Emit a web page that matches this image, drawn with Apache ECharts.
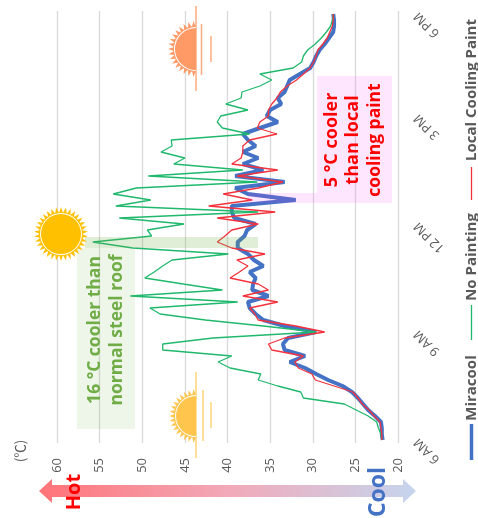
<!DOCTYPE html>
<html>
<head>
<meta charset="utf-8">
<style>
  html, body { margin: 0; padding: 0; background: #fff; }
  #chart { width: 478px; height: 518px; }
</style>
</head>
<body>
<div id="chart"></div>
<script src="https://cdn.jsdelivr.net/npm/echarts@6/dist/echarts.min.js"></script>
<script>
// 10 minute samples, 6 AM to the end of the day's log
const tempTicks = [20, 25, 30, 35, 40, 45, 50, 55, 60];
const timeLabels = { 0: '6 AM', 18: '9 AM', 36: '12 PM', 54: '3 PM', 71: '6 PM' };
const seriesNames = ['Miracool', 'No Painting', 'Local Cooling Paint'];

const miracool = [
  21.8, 21.9, 21.9, 22.0, 22.7, 23.5, 24.1, 24.7, 25.4, 26.5,
  28.2, 29.6, 30.9, 32.7, 30.9, 33.3, 33.5, 32.9, 29.6, 33.3,
  35.8, 36.7, 37.4, 37.6, 35.2, 37.1, 37.0, 36.7, 37.4, 35.8,
  36.9, 37.6, 38.8, 38.8, 38.0, 37.7, 36.7, 39.2, 39.5, 39.5,
  32.0, 37.6, 39.1, 33.3, 39.1, 35.8, 38.2, 36.4, 38.2, 36.7,
  37.6, 38.2, 36.2, 34.1, 35.4, 35.0, 33.7, 34.1, 33.3, 33.0,
  32.7, 31.5, 30.3, 29.9, 29.6, 29.2, 28.6, 28.1, 27.6, 27.5,
  27.5, 27.6
];
const noPainting = [
  21.9, 22.0, 22.3, 22.5, 23.5, 24.9, 26.3, 31.1, 31.4, 34.1,
  36.4, 36.1, 39.7, 41.1, 39.5, 47.6, 47.6, 41.7, 29.6, 35.8,
  42.6, 47.9, 49.1, 38.8, 51.4, 40.6, 45.2, 49.7, 48.6, 47.6,
  46.5, 39.9, 51.1, 55.8, 48.9, 49.4, 45.1, 52.7, 36.4, 53.1,
  49.0, 53.4, 50.7, 36.5, 49.3, 38.2, 46.3, 45.0, 47.8, 46.5,
  46.6, 37.4, 40.6, 41.2, 40.8, 37.6, 40.2, 38.4, 38.3, 36.2,
  34.8, 36.2, 32.3, 31.3, 31.1, 30.6, 29.7, 29.0, 28.4, 27.9,
  27.7, 27.6
];
const localPaint = [
  21.9, 21.9, 22.0, 22.1, 22.8, 23.4, 24.2, 24.7, 25.3, 27.5,
  29.7, 30.1, 31.7, 32.1, 31.1, 34.8, 35.2, 33.3, 28.6, 32.0,
  36.4, 36.8, 37.4, 34.1, 38.2, 35.2, 36.4, 39.7, 38.6, 37.6,
  38.9, 35.6, 39.5, 41.2, 40.3, 39.5, 36.4, 41.2, 34.4, 42.2,
  37.1, 40.5, 36.4, 33.5, 38.9, 34.1, 39.5, 38.4, 38.2, 38.2,
  37.4, 34.2, 36.5, 36.2, 35.2, 35.2, 34.8, 34.2, 33.8, 33.0,
  31.9, 31.1, 30.3, 29.9, 29.6, 29.4, 28.8, 28.3, 28.0, 27.7,
  27.6, 27.6
];
const categories = miracool.map((v, i) => timeLabels[i] || '');

const grey = '#595959';
const quarter = Math.PI / 2; // the whole picture is turned 90 degrees counter-clockwise
const font = '"Open Sans", sans-serif';

function turnedText(text, x, y, size, color, weight, family) {
  return {
    type: 'text', x: x, y: y, rotation: quarter, z: 20,
    style: { text: text, align: 'center', verticalAlign: 'middle', fontFamily: family || font,
             fontSize: size, fontWeight: weight || 'normal', fill: color }
  };
}

function box(x, y, w, h, fill) {
  return { type: 'rect', z: 10, shape: { x: x, y: y, width: w, height: h }, style: { fill: fill } };
}

function vline(x, y1, y2, color, width) {
  return { type: 'line', z: 10, shape: { x1: x, y1: y1, x2: x, y2: y2 },
           style: { stroke: color, lineWidth: width } };
}

// rays + ring + disc, half = only the side left of the horizon
function sun(cx, cy, r, rOuter, color, half) {
  const out = [];
  const n = half ? 17 : 34;
  const step = (half ? Math.PI : Math.PI * 2) / n;
  const start = half ? Math.PI / 2 : 0;
  for (let i = 0; i < n; i++) {
    const a = start + step * (i + 0.5);
    const base = r + 1.5;
    out.push({
      type: 'polygon', z: 11,
      shape: { points: [
        [cx + Math.cos(a - step * 0.45) * base, cy + Math.sin(a - step * 0.45) * base],
        [cx + Math.cos(a) * rOuter, cy + Math.sin(a) * rOuter],
        [cx + Math.cos(a + step * 0.45) * base, cy + Math.sin(a + step * 0.45) * base]
      ] },
      style: { fill: color }
    });
  }
  const a0 = half ? Math.PI / 2 : 0;
  const a1 = half ? Math.PI * 1.5 : Math.PI * 2;
  [[r + 2, color], [r + 1, '#fff'], [r, color]].forEach(d => {
    out.push({ type: 'sector', z: 12, shape: { cx: cx, cy: cy, r: d[0], startAngle: a0, endAngle: a1 },
               style: { fill: d[1] } });
  });
  return out;
}

const graphics = [].concat(
  // suns
  sun(196, 49, 21, 28, '#ff9a66', true),
  [vline(196, 6, 91, '#ffab80', 1.5), vline(201.5, 24, 75, '#ffab80', 1.5), vline(211, 36, 62, '#ffab80', 1.5)],
  sun(196, 416, 20, 27, '#ffc54d', true),
  [vline(196, 372, 458, '#ffd27a', 1.5), vline(203, 390, 441, '#ffd27a', 1.5), vline(211, 402, 428, '#ffd27a', 1.5)],
  sun(61, 234, 20, 27, '#ffc000', false),
  // callouts
  [
    box(85, 237, 173, 11, 'rgba(112,173,71,0.22)'),
    box(77, 248, 58, 181, 'rgba(112,173,71,0.12)'),
    turnedText('16 °C cooler than', 95, 330, 17.5, '#70ad47', 'bold'),
    turnedText('normal steel roof', 117, 330, 17.5, '#70ad47', 'bold'),
    box(248, 193, 69, 10, 'rgba(255,60,255,0.13)'),
    box(317, 76, 75, 127, 'rgba(255,60,255,0.13)'),
    turnedText('5 °C cooler', 332, 140, 18, '#ff0000', 'bold'),
    turnedText('than local', 353, 140, 18, '#ff0000', 'bold'),
    turnedText('cooling paint', 375, 140, 17.5, '#ff0000', 'bold')
  ],
  // hot / cool arrow
  [
    {
      type: 'polygon', z: 5,
      shape: { points: [[39, 491], [52, 479], [52, 485], [403, 485], [403, 479], [416, 491], [403, 503], [403, 497], [52, 497], [52, 503]] },
      style: { fill: new echarts.graphic.LinearGradient(0, 0, 1, 0, [
        { offset: 0, color: '#ff7378' },
        { offset: 0.5, color: '#f2a9b8' },
        { offset: 1, color: '#c5d5ee' }
      ]) }
    },
    turnedText('Hot', 74, 492, 20, '#ff0000', 'bold'),
    turnedText('Cool', 378, 492, 23, '#4472c4', 'bold'),
    turnedText('(℃)', 20, 451, 13.5, grey, 'normal', '"Noto Sans CJK JP"')
  ],
  // legend, turned with the chart
  [
    vline(471.5, 460, 424, '#4472c4', 3.5),
    turnedText(seriesNames[0], 472, 388, 15, grey, 'bold'),
    vline(471.5, 340, 305, '#1fb86c', 1.3),
    turnedText(seriesNames[1], 472, 257, 15, grey, 'bold'),
    vline(471.5, 200, 167, '#f4323c', 1.3),
    turnedText(seriesNames[2], 472, 90, 15, grey, 'bold')
  ]
);

const myChart = echarts.init(document.getElementById('chart'), null, { renderer: 'canvas' });
myChart.setOption({
  animation: false,
  backgroundColor: '#fff',
  grid: { left: 57, right: 80, top: 11, bottom: 75 },
  xAxis: {
    type: 'value',
    inverse: true,
    min: tempTicks[0],
    max: tempTicks[tempTicks.length - 1],
    interval: 5,
    axisLine: { show: false },
    axisTick: { show: false },
    axisLabel: { rotate: 90, margin: 15, color: grey, fontSize: 13, fontFamily: font },
    splitLine: { show: true, lineStyle: { color: '#d9d9d9', width: 1.3 } }
  },
  yAxis: {
    type: 'category',
    position: 'right',
    data: categories,
    boundaryGap: true,
    axisLine: { show: false },
    axisTick: { show: false },
    splitLine: { show: false },
    axisLabel: {
      interval: 0,
      rotate: 135,
      margin: 18,
      color: grey,
      fontSize: 13,
      fontFamily: font
    }
  },
  series: [
    { name: seriesNames[0], type: 'line', data: miracool, symbol: 'none', z: 2,
      lineStyle: { color: '#4472c4', width: 4 } },
    { name: seriesNames[1], type: 'line', data: noPainting, symbol: 'none', z: 3,
      lineStyle: { color: '#1fb86c', width: 1.3 } },
    { name: seriesNames[2], type: 'line', data: localPaint, symbol: 'none', z: 4,
      lineStyle: { color: '#f4323c', width: 1.3 } }
  ],
  graphic: { elements: graphics }
});
</script>
</body>
</html>
